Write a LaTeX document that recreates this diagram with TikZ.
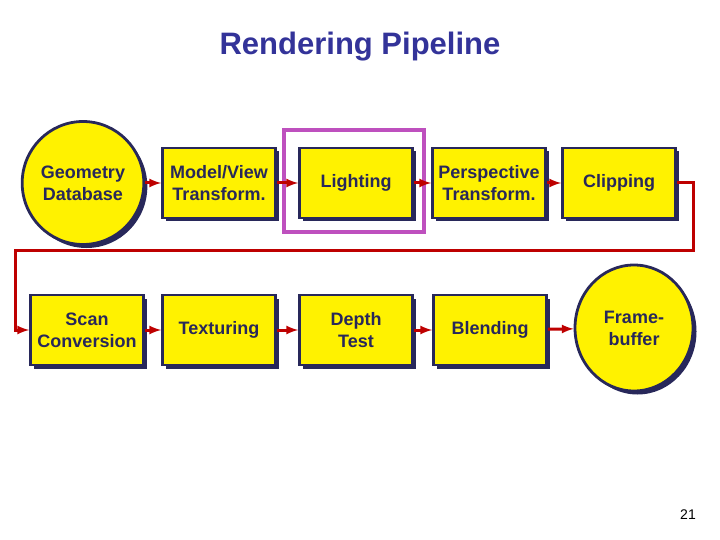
\documentclass[tikz,border=0pt]{standalone}
\usepackage{fontspec}
\setmainfont{Liberation Sans}
\usetikzlibrary{positioning,shapes.geometric,shadows}
\definecolor{navy}{RGB}{40,40,90}
\definecolor{titleblue}{RGB}{51,51,153}
\definecolor{pipered}{RGB}{190,0,0}
\begin{document}
\begin{tikzpicture}[x=1pt,y=-1pt,thick,
    stage/.style={rectangle, draw=navy, line width=2.8pt, fill=yellow,
      minimum width=113pt, minimum height=70pt, inner sep=1pt, align=center,
      font=\fontsize{18}{22}\selectfont\bfseries, text=navy,
      drop shadow={shadow xshift=3.5pt, shadow yshift=-3.5pt, fill=navy, opacity=1}},
    store/.style={stage, ellipse, minimum width=117pt, minimum height=123pt},
    flow/.style={draw=pipered, line width=3pt, -latex}]
  \useasboundingbox (0,0) rectangle (720,540);
  \node[text=titleblue, font=\fontsize{31}{34}\selectfont\bfseries] (title) at (360,47) {Rendering Pipeline};

  \node[draw={rgb,255:red,190;green,80;blue,190}, line width=3.5pt, minimum width=140pt, minimum height=102pt] (focus) at (354,181) {};

  \node[store] (geom) at (83,183) {Geometry\\Database};
  \node[stage] (model) at (219,183) {Model/View\\Transform.};
  \node[stage] (light) at (356,183) {Lighting};
  \node[stage] (persp) at (489,183) {Perspective\\Transform.};
  \node[stage] (clip) at (619,183) {Clipping};

  \node[stage] (scan) at (87,330) {Scan\\Conversion};
  \node[stage] (tex) at (219,330) {Texturing};
  \node[stage] (depth) at (356,330) {Depth\\Test};
  \node[stage] (blend) at (490,330) {Blending};
  \node[store, minimum width=118pt, minimum height=126pt] (fb) at (634,328) {Frame-\\buffer};

  \coordinate (c1) at (693,183);
  \coordinate (c2) at (693,250);
  \coordinate (c3) at (15,250);
  \coordinate (c4) at (15,330);

  \draw[flow] (geom) -- (model);
  \draw[flow] (model) -- (light);
  \draw[flow] (light) -- (persp);
  \draw[flow] (persp) -- (clip);
  \draw[flow] (clip) -- (c1) -- (c2) -- (c3) -- (c4) -- (scan);
  \draw[flow] (scan) -- (tex);
  \draw[flow] (tex) -- (depth);
  \draw[flow] (depth) -- (blend);
  \draw[flow] (blend) -- (fb);

  \node[font=\fontsize{14}{16}\selectfont] (page) at (688,515) {21};
\end{tikzpicture}
\end{document}
